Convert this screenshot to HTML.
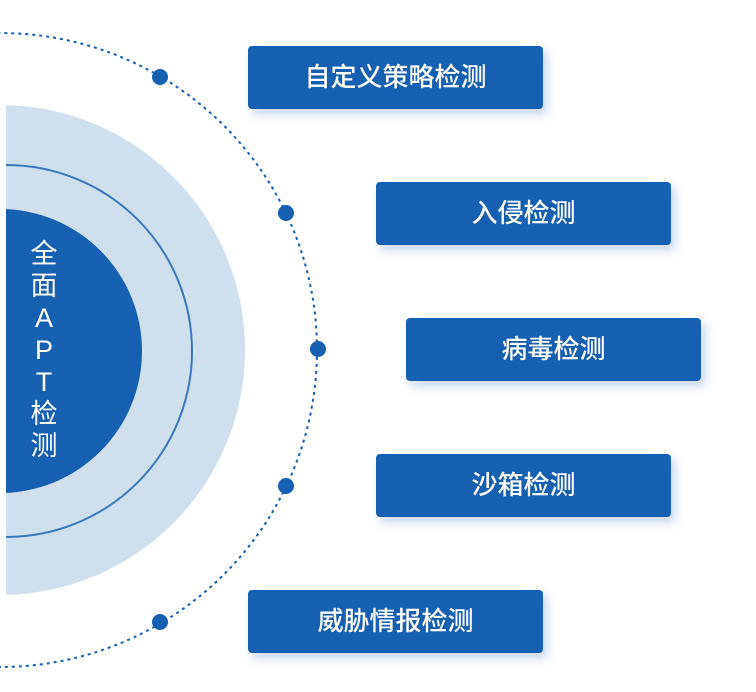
<!DOCTYPE html>
<html><head><meta charset="utf-8"><style>
html,body{margin:0;padding:0;background:#fff;}
body{width:756px;height:692px;position:relative;overflow:hidden;font-family:"Liberation Sans","Noto Sans CJK SC",sans-serif;}
svg{position:absolute;left:0;top:0;}
.b{position:absolute;width:295px;height:63px;background:#1560b0;border-radius:4px;color:#fff;font-size:26px;font-weight:500;line-height:63px;text-align:center;box-shadow:4px 5px 10px rgba(21,96,176,0.25);}
.v{position:absolute;left:29px;top:238px;width:30px;color:#fff;font-size:27px;line-height:32px;text-align:center;}
</style></head><body>
<svg width="756" height="692" viewBox="0 0 756 692">
<defs><clipPath id="c"><rect x="6" y="0" width="750" height="692"/></clipPath></defs>
<g clip-path="url(#c)">
<circle cx="0" cy="350" r="245" fill="#d0dfee"/>
<circle cx="6" cy="351" r="186" fill="none" stroke="#3b78bf" stroke-width="2"/>
<circle cx="0" cy="351" r="142" fill="#1560b0"/>
</g>
<circle cx="0" cy="350" r="317" fill="none" stroke="#1560b0" stroke-width="2" stroke-dasharray="3 4"/>
<g fill="#1560b0">
<circle cx="160" cy="77" r="8"/><circle cx="286" cy="213" r="8"/><circle cx="318" cy="349" r="8"/><circle cx="286" cy="486" r="8"/><circle cx="160" cy="622" r="8"/>
</g>
</svg>
<div class="v">全<br>面<br>A<br>P<br>T<br>检<br>测</div>
<div class="b" style="left:248px;top:46px">自定义策略检测</div>
<div class="b" style="left:376px;top:182px">入侵检测</div>
<div class="b" style="left:406px;top:318px">病毒检测</div>
<div class="b" style="left:376px;top:454px">沙箱检测</div>
<div class="b" style="left:248px;top:590px">威胁情报检测</div>
</body></html>
